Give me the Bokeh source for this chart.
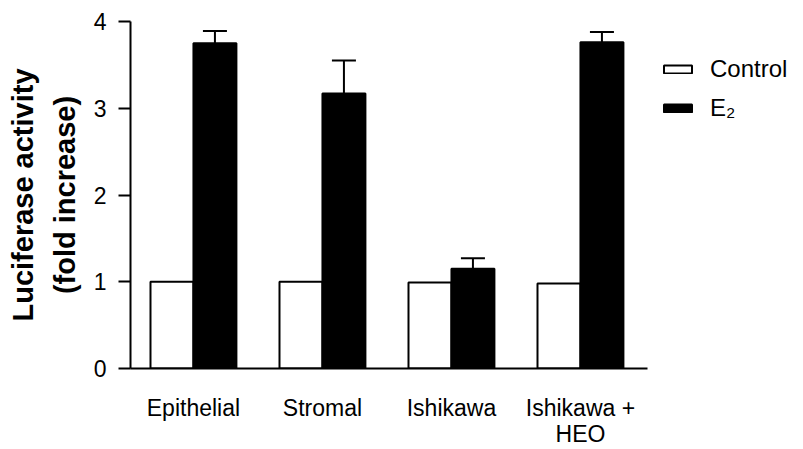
from bokeh.plotting import figure
from bokeh.models import (ColumnDataSource, FixedTicker, Legend, LegendItem,
                          Whisker, TeeHead, Range1d)
from bokeh.embed import file_html
from bokeh.resources import INLINE

# ---- data ----
categories = ["Epithelial", "Stromal", "Ishikawa", "Ishikawa +\nHEO"]
control = [1.00, 1.00, 0.99, 0.98]
e2 = [3.75, 3.17, 1.15, 3.76]
e2_err = [0.14, 0.38, 0.12, 0.12]
y_ticks = [0, 1, 2, 3, 4]

pos = [i + 1 for i in range(len(categories))]
bw = 0.333
src = ColumnDataSource(dict(
    xc=[p - bw / 2 for p in pos],
    xe=[p + bw / 2 for p in pos],
    control=control,
    e2=e2,
    e2_hi=[v + e for v, e in zip(e2, e2_err)],
))

FONT = "Liberation Sans"
X_START, X_AXIS_END = 0.512, 4.52

p = figure(width=803, height=449, output_backend="svg", toolbar_location=None,
           x_range=Range1d(X_START, 5.729), y_range=Range1d(0, 4),
           min_border_left=130, min_border_right=0, min_border_top=21,
           min_border_bottom=80)
p.outline_line_color = None
p.grid.visible = False
p.background_fill_color = "white"

r_c = p.vbar(x="xc", top="control", width=bw, bottom=0, source=src,
             fill_color="white", line_color="black", line_width=2)
r_e = p.vbar(x="xe", top="e2", width=bw, bottom=0, source=src,
             fill_color="black", line_color="black", line_width=2)

w = Whisker(base="xe", lower="e2", upper="e2_hi", source=src,
            line_color="black", line_width=2,
            upper_head=TeeHead(size=24, line_width=2, line_color="black"),
            lower_head=None)
p.add_layout(w)

# axes
p.yaxis.ticker = FixedTicker(ticks=y_ticks)
p.yaxis.minor_tick_line_color = None
p.yaxis.major_tick_out = 12
p.yaxis.major_tick_in = 0
p.yaxis.major_tick_line_width = 2
p.yaxis.axis_line_width = 2
p.yaxis.major_label_standoff = 12
p.yaxis.major_label_text_font = FONT
p.yaxis.major_label_text_font_size = "23px"
p.yaxis.major_label_text_color = "black"
p.yaxis.axis_label = "Luciferase activity\n(fold increase)"
p.yaxis.axis_label_text_font = FONT
p.yaxis.axis_label_text_font_size = "29px"
p.yaxis.axis_label_text_font_style = "bold"
p.yaxis.axis_label_text_color = "black"
p.yaxis.axis_label_text_line_height = 1.3
p.yaxis.axis_label_standoff = 10

p.xaxis.ticker = FixedTicker(ticks=pos)
p.xaxis.major_label_overrides = {pp: c for pp, c in zip(pos, categories)}
p.xaxis.bounds = (X_START, X_AXIS_END)
p.xaxis.minor_tick_line_color = None
p.xaxis.major_tick_line_color = None
p.xaxis.major_tick_out = 0
p.xaxis.major_tick_in = 0
p.xaxis.axis_line_width = 2
p.xaxis.major_label_standoff = 26
p.xaxis.major_label_text_font = FONT
p.xaxis.major_label_text_font_size = "23px"
p.xaxis.major_label_text_color = "black"
p.xaxis.major_label_text_line_height = 1.0

legend = Legend(items=[LegendItem(label="Control", renderers=[r_c]),
                       LegendItem(label="E\u2082", renderers=[r_e])],
                location=(530, 246), orientation="vertical",
                glyph_width=35, glyph_height=10, label_height=28,
                spacing=11, padding=0, margin=0, label_standoff=15,
                label_text_font=FONT, label_text_font_size="24px",
                label_text_color="black",
                border_line_color=None, background_fill_alpha=0)
p.add_layout(legend, "center")

open("out.html", "w").write(file_html(p, INLINE))
